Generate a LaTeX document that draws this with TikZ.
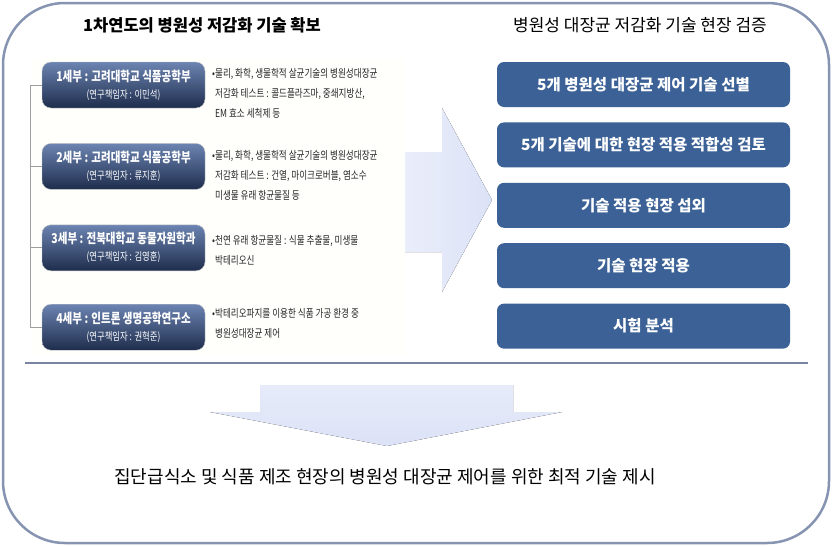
\documentclass[tikz,border=0pt]{standalone}
\usepackage{fontspec}
\setmainfont{Noto Sans CJK KR}
\newfontfamily\krcond[FakeStretch=0.78]{Noto Sans CJK KR}
\usetikzlibrary{positioning}
\definecolor{framecol}{HTML}{8694B2}
\definecolor{partTop}{HTML}{6C84B2}
\definecolor{partBot}{HTML}{1E2D4C}
\definecolor{taskcol}{HTML}{3B6196}
\definecolor{arrowcol}{HTML}{DCE2F7}
\tikzset{x=1pt, y=-1pt,
  part/.style={rounded corners=9pt, draw=gray!45, top color=partTop, bottom color=partBot,
    minimum width=163pt, minimum height=46pt, inner sep=0pt, text=white, align=center,
    font=\krcond\fontsize{10.7}{17}\selectfont},
  task/.style={rounded corners=7pt, fill=taskcol, minimum width=293pt, minimum height=45pt,
    text=white, font=\fontsize{15.5}{18}\selectfont\bfseries},
  body/.style={anchor=west, align=left, inner sep=0pt, text=black!85,
    font=\krcond\fontsize{11}{20}\selectfont},
  tree/.style={draw=gray!75, line width=0.8pt}}

\begin{document}
\begin{tikzpicture}[node distance=15pt]
    \useasboundingbox (0,0) rectangle (832,546);
    \fill[yellow!1] (32,58) rectangle (405,356);
    \draw[framecol, line width=2.5pt, rounded corners=62pt] (3,3) rectangle (829,543);

    % titles
    \node[font=\fontsize{16.5}{18}\selectfont\bfseries] (lt) at (202,25) {1차연도의 병원성 저감화 기술 확보};
    \node[font=\fontsize{17}{18}\selectfont] (rt) at (640,25) {병원성 대장균 저감화 기술 현장 검증};

    % sub-projects
    \node[part] (s1) at (123.5,85) {{\fontsize{13.5}{17}\selectfont\bfseries 1세부 : 고려대학교 식품공학부}\\(연구책임자 : 이민석)};
    \node[part] (s2) [below=35pt of s1] {{\fontsize{13.5}{17}\selectfont\bfseries 2세부 : 고려대학교 식품공학부}\\(연구책임자 : 류지훈)};
    \node[part] (s3) [below=35pt of s2] {{\fontsize{13.5}{17}\selectfont\bfseries 3세부 : 전북대학교 동물자원학과}\\(연구책임자 : 김영훈)};
    \node[part] (s4) [below=33pt of s3] {{\fontsize{13.5}{17}\selectfont\bfseries 4세부 : 인트론 생명공학연구소}\\(연구책임자 : 권혁준)};

    \node[body] (b1) at (212,93) {•물리, 화학, 생물학적 살균기술의 병원성대장균\\\phantom{•}저감화 테스트 : 콜드플라즈마, 중쇄지방산,\\\phantom{•}EM 효소 세척제 등};
    \node[body] (b2) at (212,175) {•물리, 화학, 생물학적 살균기술의 병원성대장균\\\phantom{•}저감화 테스트 : 건열, 마이크로버블, 염소수\\\phantom{•}미생물 유래 항균물질 등};
    \node[body] (b3) at (212,250) {•천연 유래 항균물질 : 식물 추출물, 미생물\\\phantom{•}박테리오신};
    \node[body] (b4) at (212,323) {•박테리오파지를 이용한 식품 가공 환경 중\\\phantom{•}병원성대장균 제어};

    \coordinate (trunk) at (30,0);
    \draw[tree] (s1.west) -- (s1.west -| trunk) -- (s4.west -| trunk) -- (s4.west)
                (s2.west) -- (s2.west -| trunk)
                (s3.west) -- (s3.west -| trunk);

    % field tests
    \node[task] (t1) at (643.5,84.5) {5개 병원성 대장균 제어 기술 선별};
    \node[task] (t2) [below=of t1] {5개 기술에 대한 현장 적용 적합성 검토};
    \node[task] (t3) [below=of t2] {기술 적용 현장 섭외};
    \node[task] (t4) [below=of t3] {기술 현장 적용};
    \node[task] (t5) [below=of t4] {시험 분석};

    % big arrows
    \fill[left color=arrowcol!60, right color=arrowcol] (405,152) -- (442,152) -- (442,108) -- (492,200)
        -- (442,292) -- (442,252) -- (405,252) -- cycle;
    \draw[framecol!90!black, line width=1.2pt] (25,363) -- (808,363);
    \fill[top color=arrowcol!70, bottom color=arrowcol] (260,385) -- (513,385) -- (513,412) -- (562,412)
        -- (387,446) -- (210,412) -- (260,412) -- cycle;

    \node[font=\fontsize{18}{20}\selectfont] (goal) at (385,477) {집단급식소 및 식품 제조 현장의 병원성 대장균 제어를 위한 최적 기술 제시};
\end{tikzpicture}
\end{document}
